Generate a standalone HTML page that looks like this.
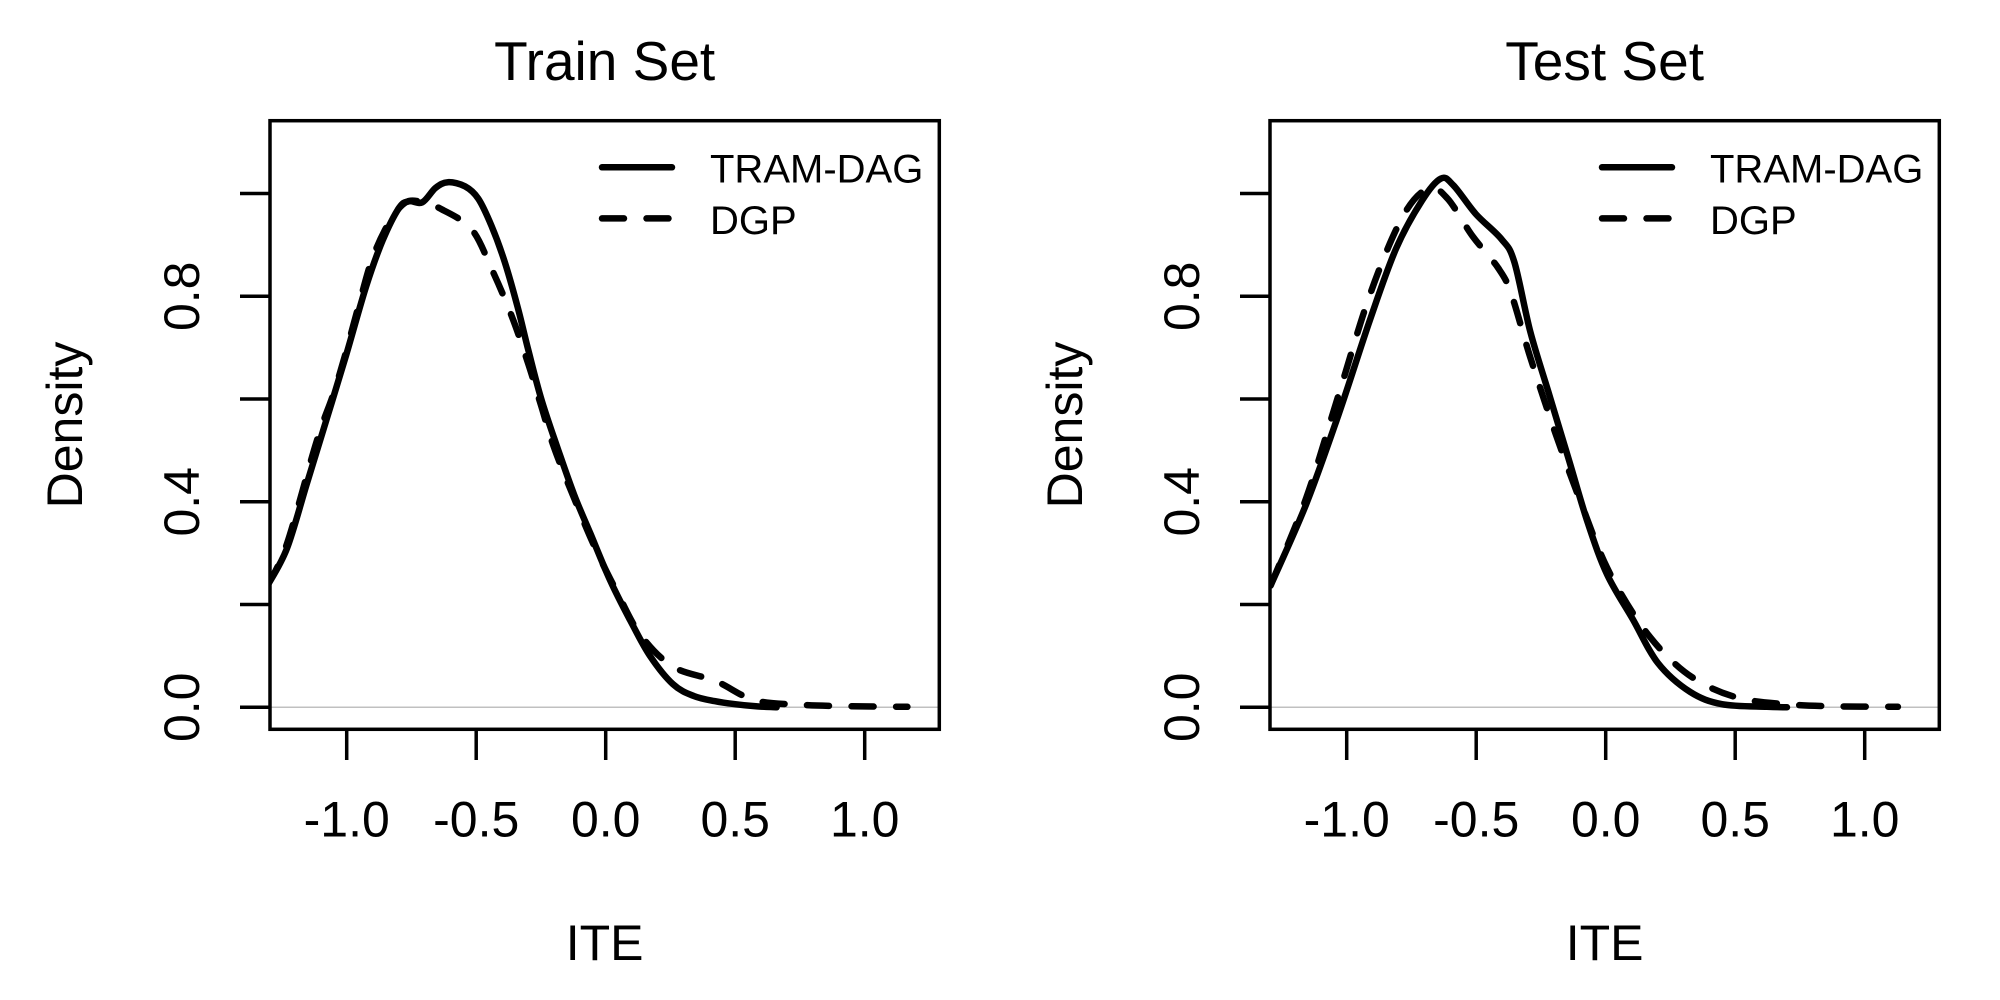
<!DOCTYPE html>
<html><head><meta charset="utf-8"><style>
html,body{margin:0;padding:0;background:#fff;}
svg{display:block;font-family:"Liberation Sans",Arial,sans-serif;}
</style></head><body>
<svg id="chart" width="2000" height="1000" viewBox="0 0 2000 1000" xmlns="http://www.w3.org/2000/svg"></svg>
<script>
const panelTitles = ["Train Set", "Test Set"];
const seriesNames = ["TRAM-DAG", "DGP"];
const xTicks = [-1.0, -0.5, 0.0, 0.5, 1.0];
const xTickLabels = ["-1.0", "-0.5", "0.0", "0.5", "1.0"];
const yTicks = [0, 0.2, 0.4, 0.6, 0.8, 1.0];
const yTickLabels = ["0.0", "", "0.4", "", "0.8", ""];
const trainTramX = [-1.307,-1.231,-1.154,-1.078,-1.002,-0.925,-0.861,-0.798,-0.760,-0.708,-0.657,-0.609,-0.543,-0.492,-0.441,-0.390,-0.339,-0.301,-0.250,-0.186,-0.122,-0.058,0.018,0.094,0.171,0.260,0.340,0.420,0.500,0.580,0.660];
const trainTramY = [0.236,0.309,0.435,0.560,0.686,0.819,0.909,0.972,0.985,0.983,1.011,1.022,1.014,0.990,0.937,0.867,0.777,0.700,0.602,0.505,0.414,0.337,0.246,0.170,0.100,0.045,0.022,0.012,0.006,0.002,0.000];
const trainDgpX = [-1.307,-1.231,-1.116,-1.052,-1.002,-0.951,-0.900,-0.836,-0.772,-0.708,-0.632,-0.517,-0.441,-0.364,-0.301,-0.250,-0.199,-0.122,-0.046,0.043,0.133,0.260,0.425,0.573,0.746,0.950,1.165];
const trainDgpY = [0.236,0.318,0.518,0.609,0.693,0.787,0.875,0.944,0.983,0.983,0.969,0.930,0.854,0.763,0.672,0.588,0.505,0.407,0.316,0.225,0.142,0.079,0.051,0.014,0.005,0.002,0.001];
const testTramX = [-1.294,-1.156,-1.032,-0.909,-0.810,-0.711,-0.637,-0.588,-0.501,-0.402,-0.353,-0.291,-0.217,-0.143,-0.069,0.005,0.104,0.202,0.326,0.449,0.622,0.700];
const testTramY = [0.237,0.396,0.569,0.756,0.892,0.985,1.029,1.016,0.960,0.911,0.867,0.731,0.607,0.483,0.359,0.259,0.172,0.086,0.030,0.006,0.001,0.000];
const testDgpX = [-1.294,-1.156,-1.032,-0.909,-0.785,-0.686,-0.612,-0.514,-0.415,-0.365,-0.291,-0.193,-0.094,0.005,0.128,0.252,0.375,0.523,0.696,0.869,1.128];
const testDgpY = [0.237,0.408,0.607,0.805,0.954,1.010,0.991,0.917,0.855,0.805,0.681,0.532,0.396,0.272,0.166,0.092,0.046,0.017,0.006,0.002,0.001];

const NS = "http://www.w3.org/2000/svg";
const svg = document.getElementById("chart");
function mk(tag, attrs, parent) {
  const e = document.createElementNS(NS, tag);
  for (const k in attrs) e.setAttribute(k, attrs[k]);
  (parent || svg).appendChild(e);
  return e;
}
const L = 270, R = 939.3, T = 120.7, B = 729.3;
function xs(v, off) { return off + 605.7 + v * 259; }
function ys(v) { return 707.3 - v * 513.75; }
function pathD(X, Y, off) {
  const P = X.map((x, i) => [xs(x, off), ys(Y[i])]);
  let d = "M" + P[0][0].toFixed(1) + "," + P[0][1].toFixed(1);
  for (let i = 0; i < P.length - 1; i++) {
    const p0 = P[Math.max(0, i - 1)], p1 = P[i], p2 = P[i + 1], p3 = P[Math.min(P.length - 1, i + 2)];
    const c1 = [p1[0] + (p2[0] - p0[0]) / 6, p1[1] + (p2[1] - p0[1]) / 6];
    const c2 = [p2[0] - (p3[0] - p1[0]) / 6, p2[1] - (p3[1] - p1[1]) / 6];
    d += " C" + c1[0].toFixed(1) + "," + c1[1].toFixed(1) + " " + c2[0].toFixed(1) + "," + c2[1].toFixed(1) + " " + p2[0].toFixed(1) + "," + p2[1].toFixed(1);
  }
  return d;
}

const panelData = [[trainTramX, trainTramY, trainDgpX, trainDgpY], [testTramX, testTramY, testDgpX, testDgpY]];
panelData.forEach((pd, p) => {
  const off = p * 1000;
  const g = mk("g", {});
  
  
  const cp = mk("clipPath", { id: "clip" + p }, g);
  mk("rect", { x: L + off, y: T, width: R - L, height: B - T }, cp);
  const title = mk("text", { x: (L + R) / 2 + off, y: 80, "font-size": 55, "text-anchor": "middle" }, g);
  title.textContent = panelTitles[p];
  
  
  const zl = mk("line", { x1: L + off, x2: R + off, y1: ys(0), y2: ys(0), stroke: "#c0c0c0", "stroke-width": 1.5 }, g);
  
  
  const cg = mk("g", { "clip-path": "url(#clip" + p + ")" }, g);
  const s1 = mk("path", { d: pathD(pd[0], pd[1], off), fill: "none", stroke: "#000", "stroke-width": 6.5, "stroke-linejoin": "round", "stroke-linecap": "round" }, cg);
  
  
  const s2 = mk("path", { d: pathD(pd[2], pd[3], off), fill: "none", stroke: "#000", "stroke-width": 6.5, "stroke-dasharray": "22,22.5", "stroke-linejoin": "round", "stroke-linecap": "round" }, cg);
  
  
  const box = mk("rect", { x: L + off, y: T, width: R - L, height: B - T, fill: "none", stroke: "#000", "stroke-width": 3.5 }, g);
  
  
  xTicks.forEach((v, i) => {
    const t = mk("line", { x1: xs(v, off), x2: xs(v, off), y1: B, y2: 760, stroke: "#000", "stroke-width": 3.5 }, g);
    
    
    const tl = mk("text", { x: xs(v, off), y: 836.7, "font-size": 50, "text-anchor": "middle" }, g);
    tl.textContent = xTickLabels[i];
    
    
  });
  yTicks.forEach((v, i) => {
    const t = mk("line", { x1: 240 + off, x2: L + off, y1: ys(v), y2: ys(v), stroke: "#000", "stroke-width": 3.5 }, g);
    
    
    if (yTickLabels[i]) {
      const tl = mk("text", { x: 0, y: 0, "font-size": 50, "text-anchor": "middle", transform: "translate(" + (199 + off) + "," + ys(v) + ") rotate(-90)" }, g);
      tl.textContent = yTickLabels[i];
      
      
    }
  });
  const xl = mk("text", { x: (L + R) / 2 + off, y: 960, "font-size": 50, "text-anchor": "middle" }, g);
  xl.textContent = "ITE";
  
  
  const yl = mk("text", { x: 0, y: 0, "font-size": 50, "text-anchor": "middle", transform: "translate(" + (82 + off) + "," + ((T + B) / 2) + ") rotate(-90)" }, g);
  yl.textContent = "Density";
  
  
  const lg = mk("g", {}, g);
  
  
  [167.3, 218.4].forEach((yy, i) => {
    const ln = mk("line", { x1: 602 + off, x2: 672 + off, y1: yy, y2: yy, stroke: "#000", "stroke-width": 6.5, "stroke-linecap": "round" }, lg);
    if (i === 1) ln.setAttribute("stroke-dasharray", "22,22.5");
    
    
    const lt = mk("text", { x: 710 + off, y: yy + 15.4, "font-size": 40 }, lg);
    lt.textContent = seriesNames[i];
    
    
  });
});
</script>
</body></html>
